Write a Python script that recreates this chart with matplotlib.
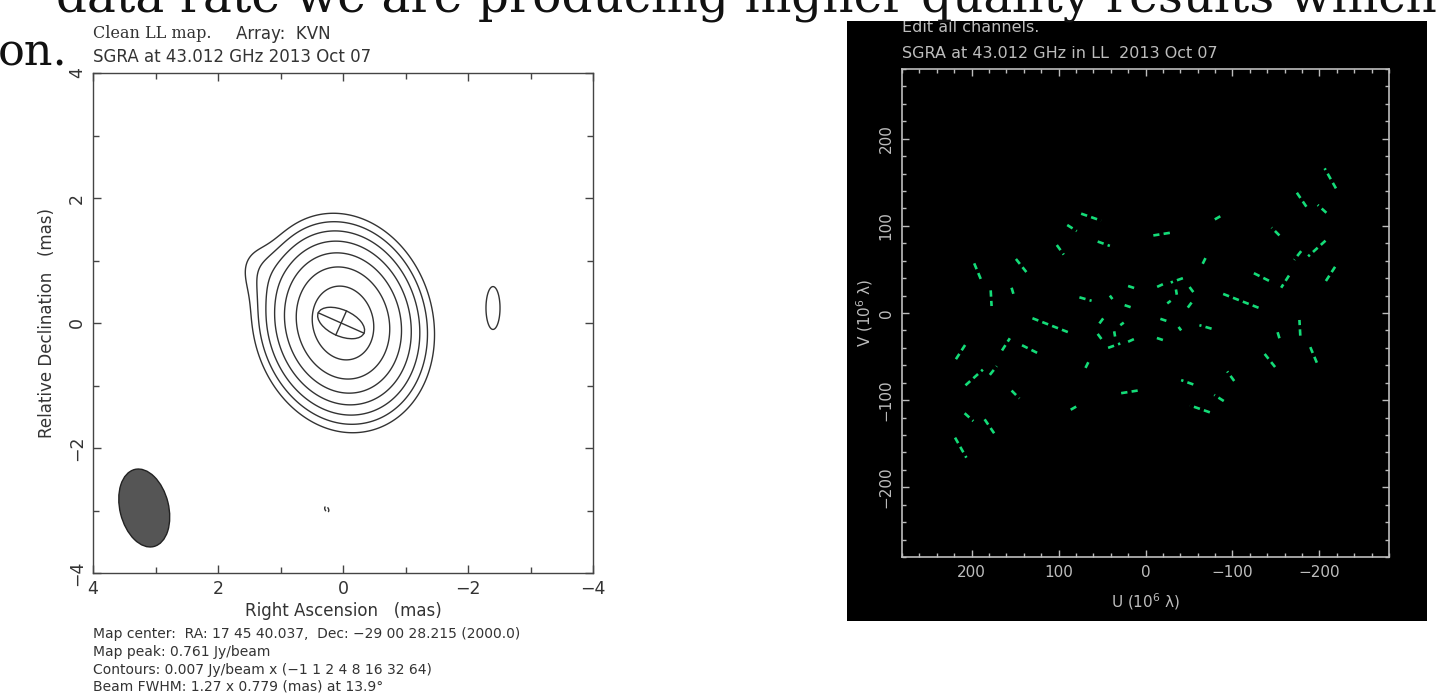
import numpy as np
import matplotlib.pyplot as plt
from matplotlib.patches import Ellipse, Rectangle
from matplotlib.ticker import MultipleLocator

W, H = 1439, 695

# ---- left: clean map (gaussian components) ----
# flux (Jy/beam), position (mas), sigma along major / minor axis (mas), PA (deg, N through E)
comp_flux = [0.761, 0.007, 0.0085, -0.0078]
comp_x = [0.0, 1.35, -2.40, 0.26]
comp_y = [0.0, 0.85, 0.24, -2.98]
comp_smaj = [0.58, 0.32, 0.55, 0.10]
comp_smin = [0.47, 0.26, 0.18, 0.06]
comp_pa = [15.0, 20.0, 0.0, 30.0]

contour_base = 0.007
contour_mult = [-1, 1, 2, 4, 8, 16, 32, 64]
map_peak = 0.761

beam_maj, beam_min, beam_pa = 1.27, 0.779, 13.9
beam_x, beam_y = 3.18, -2.96

# fitted component drawn with a cross
fit_x, fit_y = 0.03, 0.0
fit_maj, fit_min, fit_pa = 0.80, 0.42, 66.0

# ---- right: uv coverage, one half of each track (the other half is -u, -v), 10^6 lambda ----
u_start = [74, 90, 55, 102, 149, 197, 178, 154, 76, 41, 20, 24, 130, 53, 29, 55, 36, 43, 20,
           142, 165, 218, 69, 207, 179, 154, 28, 86, 208, 185, 219]
v_start = [114, 101, 82, 78, 62, 57, 26, 29, 18, 20, 31, 9, -6, -12, -14, -24, -21, -40, -33,
           -37, -43, -53, -63, -83, -71, -89, -92, -111, -115, -122, -143]
u_end = [51, 79, 41, 94, 137, 189, 177, 151, 62, 38, 11, 15, 89, 47, 25, 49, 35, 29, 9,
         124, 156, 205, 65, 187, 171, 145, 9, 79, 198, 172, 206]
v_end = [106, 94, 77, 67, 47, 38, 8, 19, 14, 16, 28, 6, -22, -4, -11, -32, -27, -35, -28,
         -46, -29, -33, -55, -65, -61, -98, -89, -107, -124, -141, -166]


def fx(px):
    return px / W


def fy(py):
    return 1 - py / H


fig = plt.figure(figsize=(W / 100, H / 100), dpi=100)

# slide text round the plots
fig.text(fx(1437), fy(11), "data rate we are producing higher quality results which",
         ha='right', va='baseline', family='DejaVu Serif', size=35, color='#111111', zorder=6)
fig.text(fx(-2), fy(65), "on.", ha='left', va='baseline', family='DejaVu Serif', size=32,
         color='#111111')

# ---------------- contour map ----------------
ax1 = fig.add_axes([fx(93), fy(573), 500 / W, 500 / H])

xs = np.linspace(-4, 4, 801)
X, Y = np.meshgrid(xs, xs)
Z = np.zeros_like(X)
for f, x0, y0, a, b, pa in zip(comp_flux, comp_x, comp_y, comp_smaj, comp_smin, comp_pa):
    t = np.radians(pa)
    dx, dy = X - x0, Y - y0
    d_maj = dx * np.sin(t) + dy * np.cos(t)
    d_min = dx * np.cos(t) - dy * np.sin(t)
    Z += f * np.exp(-0.5 * ((d_maj / a) ** 2 + (d_min / b) ** 2))

levels = sorted(contour_base * np.array(contour_mult))
ax1.contour(X, Y, Z, levels=levels, colors='#333333', linewidths=1.0,
            negative_linestyles='dashed')

ax1.add_patch(Ellipse((beam_x, beam_y), width=beam_min, height=beam_maj, angle=-beam_pa,
                      facecolor='#555555', edgecolor='#222222', lw=1.0))

ax1.add_patch(Ellipse((fit_x, fit_y), width=fit_min, height=fit_maj, angle=-fit_pa,
                      facecolor='none', edgecolor='#333333', lw=1.0))
t = np.radians(fit_pa)
ax1.plot([fit_x - fit_maj / 2 * np.sin(t), fit_x + fit_maj / 2 * np.sin(t)],
         [fit_y - fit_maj / 2 * np.cos(t), fit_y + fit_maj / 2 * np.cos(t)], color='#333333', lw=1.0)
ax1.plot([fit_x - fit_min / 2 * np.cos(t), fit_x + fit_min / 2 * np.cos(t)],
         [fit_y + fit_min / 2 * np.sin(t), fit_y - fit_min / 2 * np.sin(t)], color='#333333', lw=1.0)

ax1.set_xlim(4, -4)
ax1.set_ylim(-4, 4)
ax1.xaxis.set_major_locator(MultipleLocator(2))
ax1.yaxis.set_major_locator(MultipleLocator(2))
ax1.xaxis.set_minor_locator(MultipleLocator(1))
ax1.yaxis.set_minor_locator(MultipleLocator(1))
ax1.tick_params(which='both', direction='in', top=True, right=True, color='#444444',
                labelcolor='#333333', labelsize=12.5)
ax1.tick_params(which='major', length=6, width=1.0, pad=5)
ax1.tick_params(which='minor', length=4, width=1.0)
ax1.tick_params(axis='y', labelrotation=90)
for lab in ax1.get_yticklabels():
    lab.set_va('center')
for s in ax1.spines.values():
    s.set_color('#444444')
    s.set_linewidth(1.0)

ax1.set_xlabel("Right Ascension   (mas)", size=12, color='#333333', va='center')
ax1.xaxis.set_label_coords(0.5, -(611 - 573) / 500)
ax1.set_ylabel("Relative Declination   (mas)", size=12, color='#333333', va='center')
ax1.yaxis.set_label_coords(-(93 - 47) / 500, 0.5)

fig.text(fx(93), fy(34), "Clean LL map.", family='DejaVu Serif', size=11.5, va='center',
         color='#333333')
fig.text(fx(236), fy(34), "Array:  KVN", size=12, va='center', color='#333333')
fig.text(fx(93), fy(57), "SGRA at 43.012 GHz 2013 Oct 07", size=12, va='center',
         color='#333333')

mult_txt = " ".join(str(m).replace('-', '\u2212') for m in contour_mult)
info = [
    "Map center:  RA: 17 45 40.037,  Dec: \u221229 00 28.215 (2000.0)",
    f"Map peak: {map_peak:.3f} Jy/beam",
    f"Contours: {contour_base:.3f} Jy/beam x ({mult_txt})",
    f"Beam FWHM: {beam_maj:.2f} x {beam_min:.3f} (mas) at {beam_pa:.1f}\u00b0",
]
for py, line in zip([634, 652, 670, 687], info):
    fig.text(fx(93), fy(py), line, size=10, va='center', color='#333333')

# ---------------- uv coverage ----------------
fig.add_artist(Rectangle((fx(847), fy(621)), 580 / W, 600 / H, transform=fig.transFigure,
                         facecolor='black', edgecolor='none', zorder=0))
ax2 = fig.add_axes([fx(902), fy(557), 487 / W, 488 / H], facecolor='black')
green = '#14dc78'
for u1, v1, u2, v2 in zip(u_start, v_start, u_end, v_end):
    ax2.plot([u1, u2], [v1, v2], color=green, lw=1.9, dashes=(2.4, 1.6))
    ax2.plot([-u1, -u2], [-v1, -v2], color=green, lw=1.9, dashes=(2.4, 1.6))

ax2.set_xlim(280, -280)
ax2.set_ylim(-280, 280)
ax2.xaxis.set_major_locator(MultipleLocator(100))
ax2.yaxis.set_major_locator(MultipleLocator(100))
ax2.xaxis.set_minor_locator(MultipleLocator(20))
ax2.yaxis.set_minor_locator(MultipleLocator(20))
grey = '#bdbdbd'
ax2.tick_params(which='both', direction='in', top=True, right=True, color=grey,
                labelcolor=grey, labelsize=11)
ax2.tick_params(which='major', length=5, width=1.0, pad=6)
ax2.tick_params(which='minor', length=3, width=1.0)
ax2.tick_params(axis='y', labelrotation=90)
for lab in ax2.get_yticklabels():
    lab.set_va('center')
for s in ax2.spines.values():
    s.set_color(grey)
    s.set_linewidth(1.2)

ax2.set_xlabel("U (10$^6$ \u03bb)", size=11, color=grey, va='center')
ax2.xaxis.set_label_coords((1146 - 902) / 487, -(602 - 557) / 488)
ax2.set_ylabel("V (10$^6$ \u03bb)", size=11, color=grey, va='center')
ax2.yaxis.set_label_coords(-(902 - 865) / 487, (557 - 313) / 488)

fig.text(fx(902), fy(27), "Edit all channels.", size=11.5, va='center', color=grey)
fig.text(fx(902), fy(54), "SGRA at 43.012 GHz in LL  2013 Oct 07", size=11.5, va='center',
         color=grey)
# the slide's white margin hides the top of the first line
fig.add_artist(Rectangle((fx(847), fy(21)), 580 / W, 21 / H, transform=fig.transFigure,
                         facecolor='white', edgecolor='none', zorder=4))

fig.savefig("out.png", dpi=100)
